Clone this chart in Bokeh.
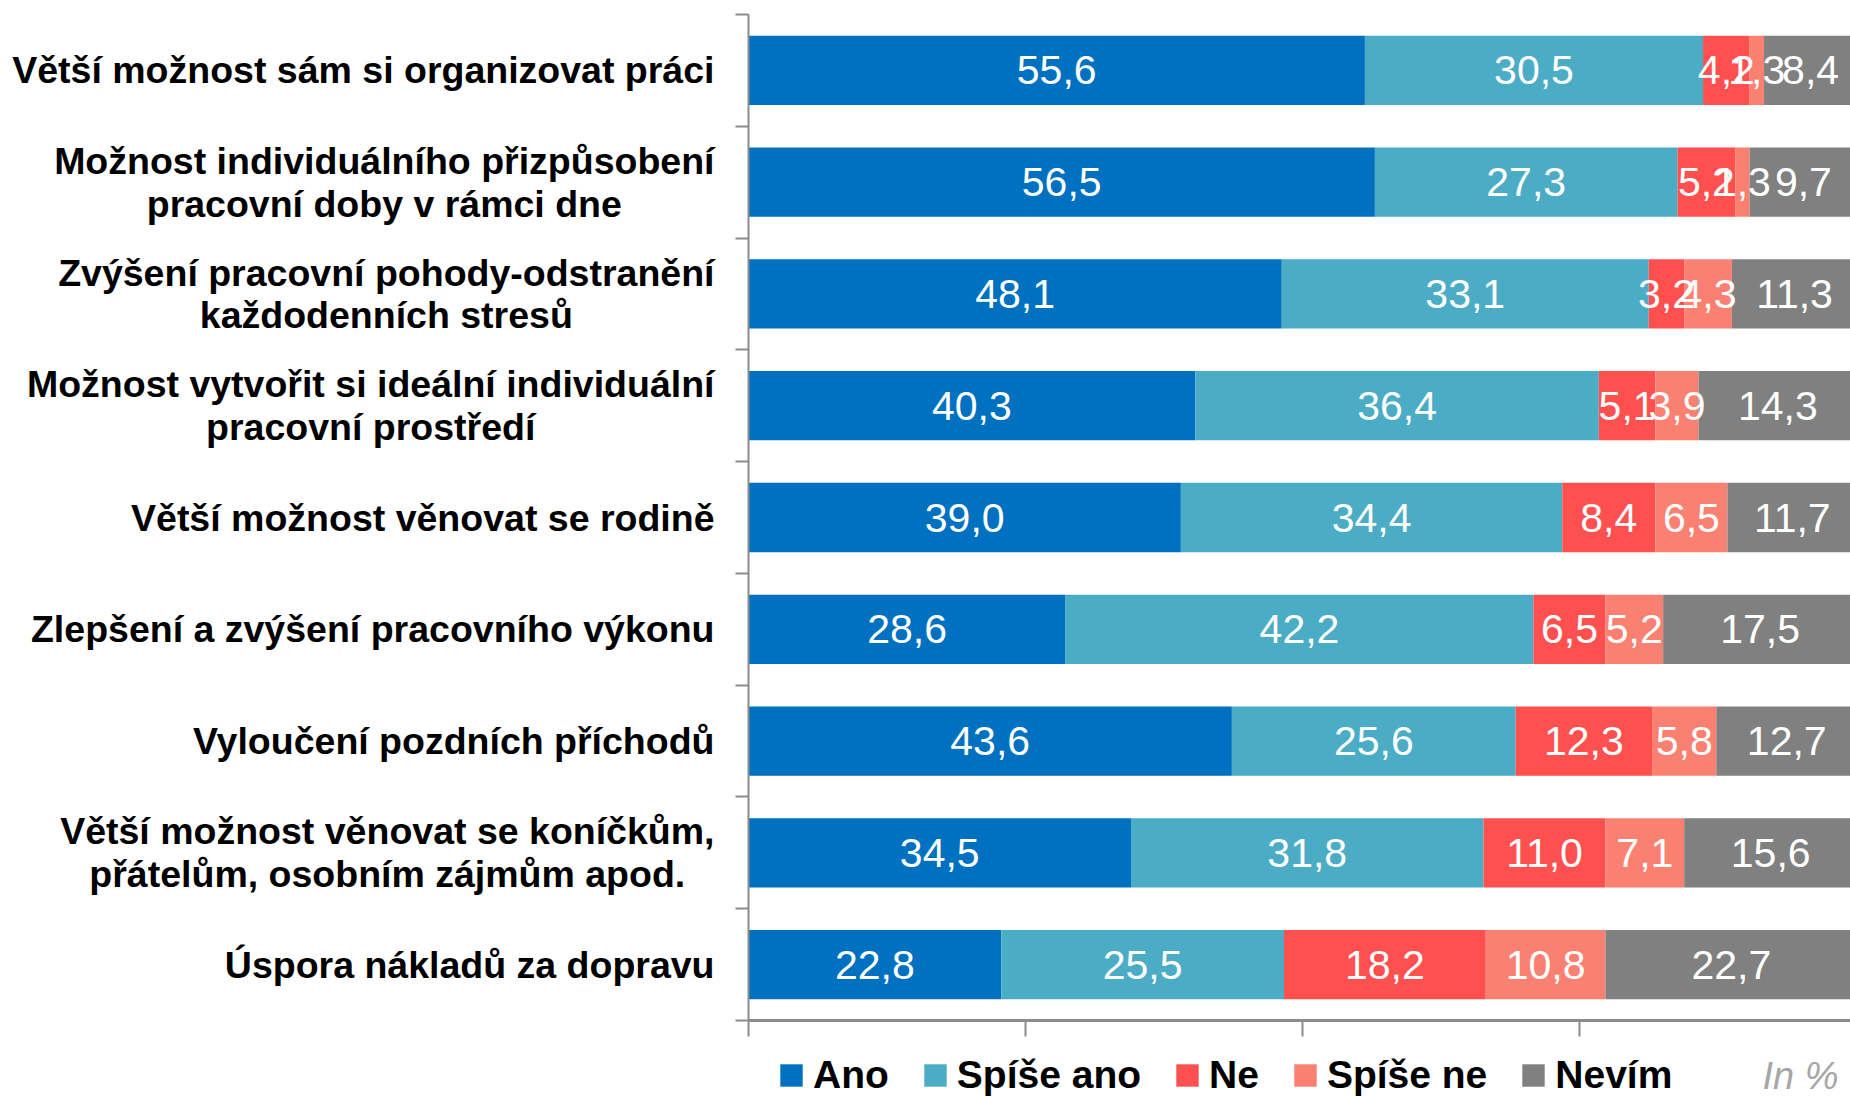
import numpy as np
from bokeh.plotting import figure
from bokeh.layouts import row, column
from bokeh.models import ColumnDataSource, Range1d, FixedTicker, Legend, LegendItem, Label
from bokeh.embed import file_html
from bokeh.resources import INLINE
from bokeh.core.properties import value

categories = [
    "Větší možnost sám si organizovat práci",
    "Možnost individuálního přizpůsobení\npracovní doby v rámci dne",
    "Zvýšení pracovní pohody-odstranění\nkaždodenních stresů",
    "Možnost vytvořit si ideální individuální\npracovní prostředí",
    "Větší možnost věnovat se rodině",
    "Zlepšení a zvýšení pracovního výkonu",
    "Vyloučení pozdních příchodů",
    "Větší možnost věnovat se koníčkům,\npřátelům, osobním zájmům apod.",
    "Úspora nákladů za dopravu",
]
series = ["Ano", "Spíše ano", "Ne", "Spíše ne", "Nevím"]
ano = [55.6, 56.5, 48.1, 40.3, 39.0, 28.6, 43.6, 34.5, 22.8]
spise_ano = [30.5, 27.3, 33.1, 36.4, 34.4, 42.2, 25.6, 31.8, 25.5]
ne = [4.2, 5.2, 3.2, 5.1, 8.4, 6.5, 12.3, 11.0, 18.2]
spise_ne = [1.3, 1.3, 4.3, 3.9, 6.5, 5.2, 5.8, 7.1, 10.8]
nevim = [8.4, 9.7, 11.3, 14.3, 11.7, 17.5, 12.7, 15.6, 22.7]
x_ticks = [0, 25, 50, 75, 100]
unit_note = "In %"
colors = ["#0070C0", "#4BACC6", "#FF5050", "#FA8072", "#808080"]

values = [ano, spise_ano, ne, spise_ne, nevim]
keys = ["s0", "s1", "s2", "s3", "s4"]
n = len(categories)
ypos = [n - 1 - i for i in range(n)]

data = {"y": ypos}
for k, v in zip(keys, values):
    data[k] = v
src = ColumnDataSource(data)

lx, ly, lt = [], [], []
for i in range(n):
    left = 0.0
    for v in values:
        val = v[i]
        lx.append(left + val / 2.0)
        ly.append(ypos[i])
        lt.append(f"{val:.1f}".replace(".", ","))
        left += val
lsrc = ColumnDataSource({"x": lx, "y": ly, "t": lt})

W, H = 1850, 1097
TOP_H = 1046          # height of the chart row
BOT_H = H - TOP_H     # legend strip
TOP, BOTTOM = 14, 26
LAB_W = 720

y_range = Range1d(-0.5, n - 0.5)

# ---- category labels panel ----
lab = figure(width=LAB_W, height=TOP_H, output_backend="svg", toolbar_location=None,
             x_range=Range1d(0, LAB_W), y_range=y_range,
             x_axis_location=None, y_axis_location=None,
             min_border_left=0, min_border_right=0, min_border_top=TOP, min_border_bottom=BOTTOM)
lab.outline_line_color = None
lab.xgrid.visible = False
lab.ygrid.visible = False
csrc = ColumnDataSource({"y": ypos, "c": categories, "x": [LAB_W - 6] * n})
lab.text(x="x", y="y", text="c", source=csrc, anchor="center_right", text_align="center",
         text_font=value("Liberation Sans"), text_font_style="bold", text_font_size="37.5px",
         text_line_height=1.02, text_color="black")

# ---- bars ----
p = figure(width=W - LAB_W, height=TOP_H, output_backend="svg", toolbar_location=None,
           x_range=Range1d(0, 99.4), y_range=y_range,
           min_border_left=28, min_border_right=0, min_border_top=TOP, min_border_bottom=BOTTOM)
p.outline_line_color = None
p.xgrid.visible = False
p.ygrid.visible = False

p.hbar_stack(keys, y="y", height=0.62, color=colors, line_color=None, source=src)

p.text(x="x", y="y", text="t", source=lsrc, text_color="white",
       text_font=value("Liberation Sans"), text_font_size="41px",
       text_align="center", text_baseline="middle")

gray = "#8c8c8c"
ya = p.yaxis[0]
ya.ticker = FixedTicker(ticks=sorted(ypos), minor_ticks=[i - 0.5 for i in range(n + 1)])
ya.major_tick_out = 0
ya.major_tick_in = 0
ya.minor_tick_out = 13
ya.minor_tick_in = 0
ya.minor_tick_line_color = gray
ya.minor_tick_line_width = 2
ya.axis_line_color = gray
ya.axis_line_width = 2
ya.major_label_standoff = 0
ya.major_label_text_font_size = "0px"
ya.major_label_text_color = None

xa = p.xaxis[0]
xa.ticker = FixedTicker(ticks=x_ticks, minor_ticks=[])
xa.major_tick_out = 16
xa.major_tick_in = 0
xa.major_tick_line_color = gray
xa.major_tick_line_width = 2
xa.axis_line_color = gray
xa.axis_line_width = 3
xa.major_label_text_color = None
xa.major_label_text_font_size = "0px"
xa.major_label_standoff = 0
xa.minor_tick_line_color = None

# ---- legend strip ----
bot = figure(width=W, height=BOT_H, output_backend="svg", toolbar_location=None,
             x_range=Range1d(0, W), y_range=Range1d(0, BOT_H),
             x_axis_location=None, y_axis_location=None,
             min_border_left=0, min_border_right=0, min_border_top=0, min_border_bottom=0)
bot.outline_line_color = None
bot.xgrid.visible = False
bot.ygrid.visible = False
# legend swatches only (no drawn bars)
nan = np.array([np.nan])
leg_rs = [bot.hbar(y=nan, right=nan, height=1, color=c, line_color=None) for c in colors]

legend = Legend(items=[LegendItem(label=s, renderers=[r]) for s, r in zip(series, leg_rs)],
                orientation="horizontal", location=(777, 0),
                glyph_width=28, glyph_height=28, label_height=28, label_standoff=8, spacing=32,
                padding=0, margin=0, border_line_color=None, background_fill_alpha=0,
                label_text_font="Liberation Sans", label_text_font_style="bold",
                label_text_font_size="39px", label_text_color="black")
bot.add_layout(legend)

bot.add_layout(Label(x=1838, y=22, text=unit_note, text_align="right", text_baseline="middle",
                     text_font="Liberation Sans", text_font_style="italic",
                     text_font_size="38px", text_color="#a6a6a6"))

layout = column(row(lab, p, spacing=0), bot, spacing=0)
open("out.html", "w").write(file_html(layout, INLINE))
